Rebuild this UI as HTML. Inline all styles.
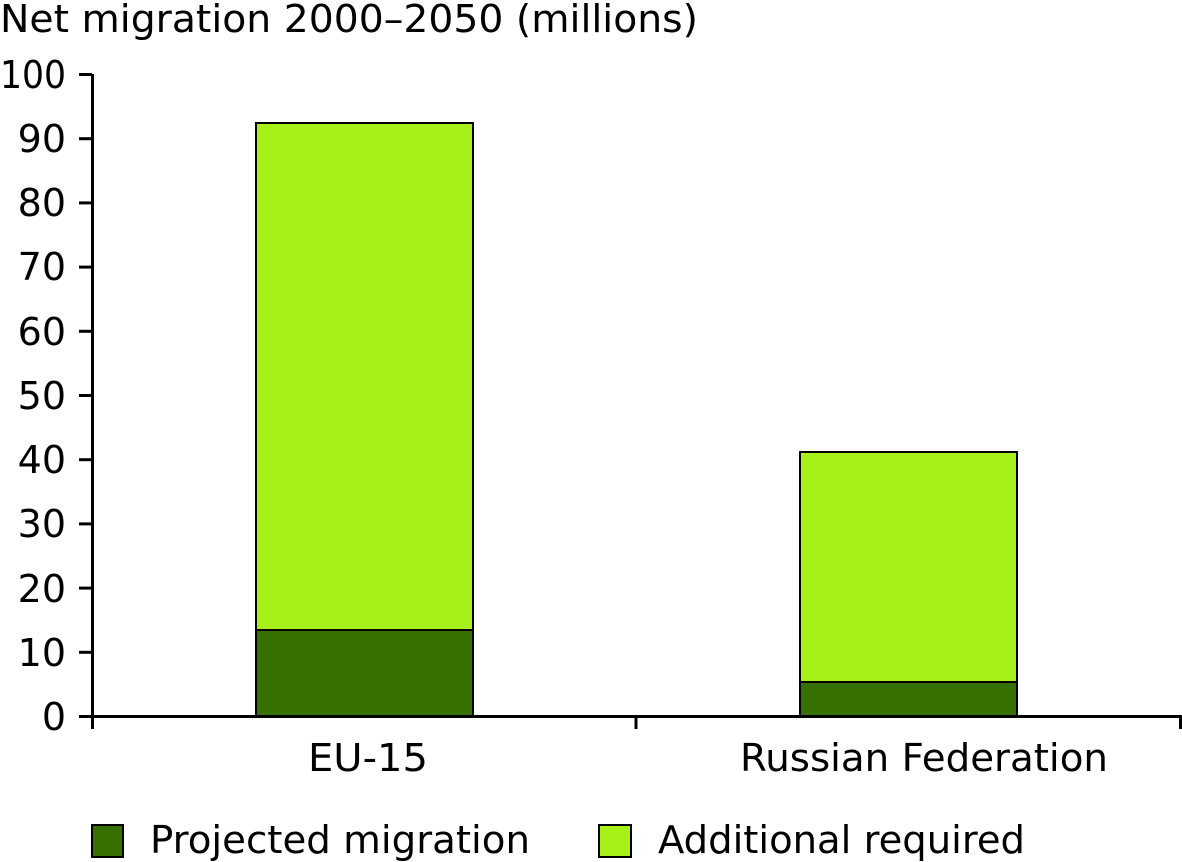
<!DOCTYPE html>
<html><head><style>
html,body{margin:0;padding:0;background:#fff;}
svg{display:block;}
text{font-family:"DejaVu Sans","Liberation Sans",sans-serif;font-size:38px;fill:#000;}
</style></head><body>
<svg width="1182" height="862" xmlns="http://www.w3.org/2000/svg">
<text x="0" y="32" textLength="698" lengthAdjust="spacingAndGlyphs">Net migration 2000–2050 (millions)</text>
<g text-anchor="end">
<text x="66" y="730">0</text>
<text x="66" y="666">10</text>
<text x="66" y="602">20</text>
<text x="66" y="537">30</text>
<text x="66" y="473">40</text>
<text x="66" y="409">50</text>
<text x="66" y="345">60</text>
<text x="66" y="280">70</text>
<text x="66" y="216">80</text>
<text x="66" y="152">90</text>
<text x="66" y="88" textLength="66" lengthAdjust="spacingAndGlyphs">100</text>
</g>
<g fill="#a8f01a" stroke="#000" stroke-width="2">
<rect x="256" y="123" width="217" height="507"/>
<rect x="800" y="452" width="217" height="230"/>
</g>
<g fill="#367000" stroke="#000" stroke-width="2">
<rect x="256" y="630" width="217" height="86"/>
<rect x="800" y="682" width="217" height="34"/>
</g>
<g stroke="#000" stroke-width="3">
<line x1="92.5" y1="74" x2="92.5" y2="729"/>
<line x1="79" y1="716.5" x2="1182" y2="716.5"/>
<line x1="636" y1="716" x2="636" y2="729"/>
<line x1="1180.5" y1="716" x2="1180.5" y2="729"/>
<line x1="79" y1="652.3" x2="92" y2="652.3"/>
<line x1="79" y1="588.1" x2="92" y2="588.1"/>
<line x1="79" y1="523.9" x2="92" y2="523.9"/>
<line x1="79" y1="459.7" x2="92" y2="459.7"/>
<line x1="79" y1="395.5" x2="92" y2="395.5"/>
<line x1="79" y1="331.3" x2="92" y2="331.3"/>
<line x1="79" y1="267.1" x2="92" y2="267.1"/>
<line x1="79" y1="202.9" x2="92" y2="202.9"/>
<line x1="79" y1="138.7" x2="92" y2="138.7"/>
<line x1="79" y1="74.5" x2="92" y2="74.5"/>
</g>
<text x="308" y="771" textLength="120" lengthAdjust="spacingAndGlyphs">EU-15</text>
<text x="740" y="771" textLength="368" lengthAdjust="spacingAndGlyphs">Russian Federation</text>
<rect x="92" y="825" width="31" height="32" fill="#367000" stroke="#000" stroke-width="2"/>
<text x="150" y="853" textLength="380" lengthAdjust="spacingAndGlyphs">Projected migration</text>
<rect x="599" y="825" width="32" height="32" fill="#a8f01a" stroke="#000" stroke-width="2"/>
<text x="658" y="853" textLength="367" lengthAdjust="spacingAndGlyphs">Additional required</text>
</svg>
</body></html>
